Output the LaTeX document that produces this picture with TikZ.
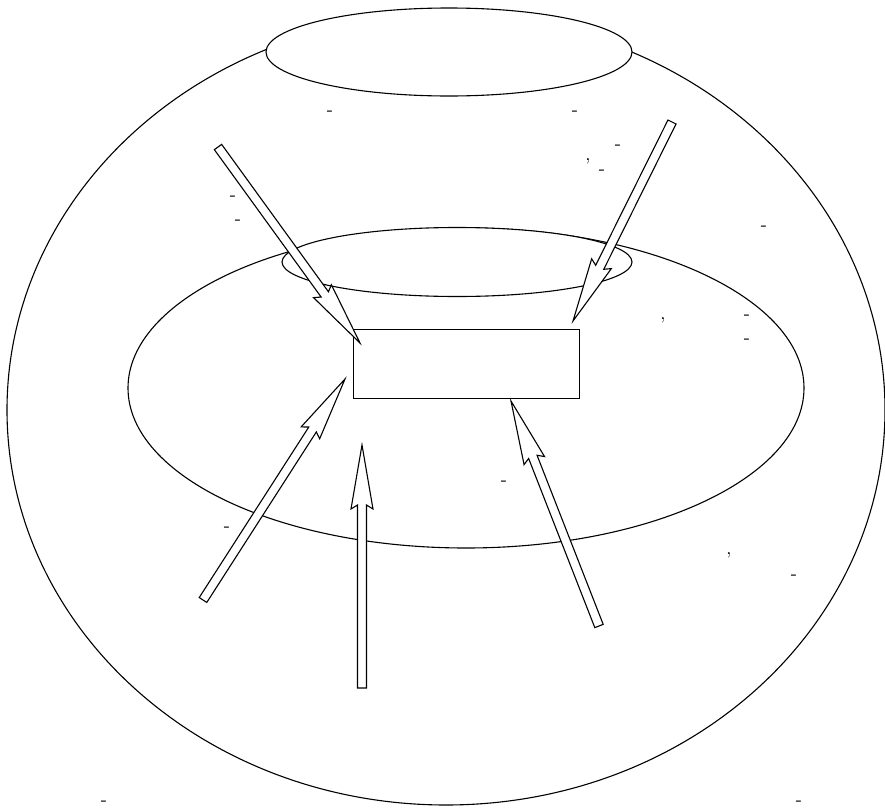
\documentclass[tikz,border=0pt]{standalone}
\usetikzlibrary{calc}
\tikzset{
  shape line/.style={draw=black, line width=0.55pt},
  whitefill/.style={shape line, fill=white},
  harrowstyle/.style={draw=black, line width=0.55pt, fill=white, line join=miter},
  smallmark/.style={inner sep=0pt, font=\small},
}
\newcommand\harrow[2]{%
  \coordinate (#1b) at ($(#2)!30pt!(#1)$);
  \coordinate (#1w) at ($(#2)!32pt!(#1)$);
  \draw[harrowstyle]
    ($(#1)!2.25pt!90:(#2)$) -- ($(#1b)!2.25pt!-90:(#1)$) -- ($(#1w)!5.5pt!-90:(#1)$)
    -- (#2) -- ($(#1w)!5.5pt!90:(#1)$) -- ($(#1b)!2.25pt!90:(#1)$)
    -- ($(#1)!2.25pt!-90:(#2)$) -- cycle;
}
\begin{document}
\begin{tikzpicture}[x=0.5pt,y=-0.5pt]
\useasboundingbox (0,0) rectangle (885,809);
% outer body
\draw[shape line] (446,410) ellipse [x radius=439, y radius=395];
% top opening
\draw[whitefill] (449,52) ellipse [x radius=183, y radius=44];
% middle ring
\draw[shape line] (466,388) ellipse [x radius=338, y radius=160];
\draw[whitefill] (457,262) ellipse [x radius=175, y radius=34.5];
% central box
\node[draw=black, line width=0.5pt, minimum width=113pt, minimum height=34.5pt, inner sep=0pt] (box) at (466,363.5) {};
% arrow ends
\coordinate (a) at (218,147);  \coordinate (ta) at (360,343);
\coordinate (b) at (672,122);  \coordinate (tb) at (573,321);
\coordinate (c) at (203,600);  \coordinate (tc) at (345,379);
\coordinate (d) at (362,688);  \coordinate (td) at (362,445);
\coordinate (e) at (599,626);  \coordinate (te) at (511,401);
\harrow{a}{ta}
\harrow{b}{tb}
\harrow{c}{tc}
\harrow{d}{td}
\harrow{e}{te}
% scattered marks
\node[smallmark] (m1) at (330,113) {-};
\node[smallmark] (m2) at (575,113) {-};
\node[smallmark] (m3) at (588,161) {,};
\node[smallmark] (m4) at (618,147) {-};
\node[smallmark] (m5) at (602,172) {-};
\node[smallmark] (m6) at (233,198) {-};
\node[smallmark] (m7) at (238,222) {-};
\node[smallmark] (m8) at (764,228) {-};
\node[smallmark] (m9) at (663,320) {,};
\node[smallmark] (m10) at (747,317) {-};
\node[smallmark] (m11) at (747,341) {-};
\node[smallmark] (m12) at (504,483) {-};
\node[smallmark] (m13) at (227,529) {-};
\node[smallmark] (m14) at (729,555) {,};
\node[smallmark] (m15) at (794,577) {-};
\node[smallmark] (m16) at (104,803) {-};
\node[smallmark] (m17) at (799,803) {-};
\end{tikzpicture}
\end{document}
